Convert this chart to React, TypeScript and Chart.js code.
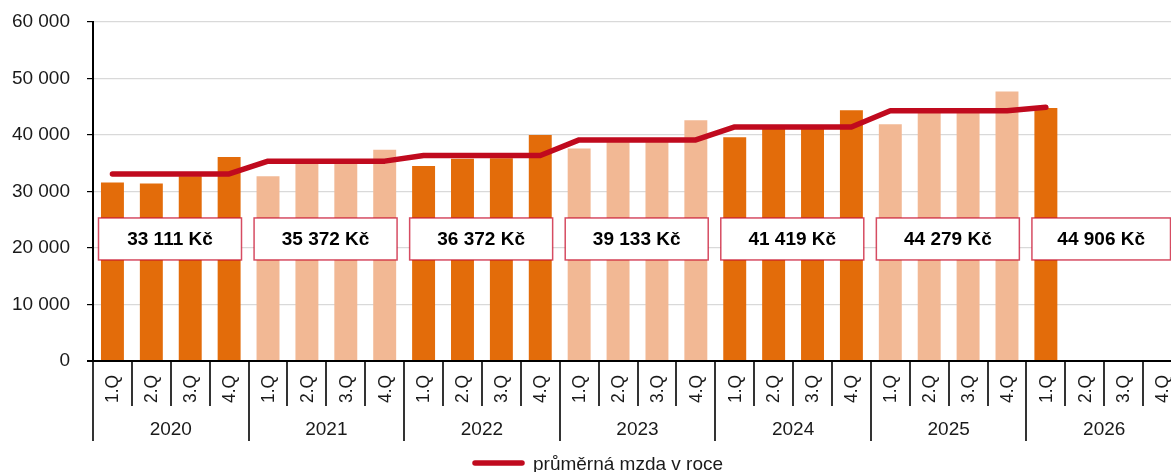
import React, { useEffect, useRef } from 'react';
import { Chart, registerables } from 'chart.js';

Chart.register(...registerables);

// ---- data ----
const years = ['2020', '2021', '2022', '2023', '2024', '2025', '2026'];
const quarters = ['1.Q', '2.Q', '3.Q', '4.Q'];
const quarterlyWage: (number | null)[] = [
  31600, 31400, 32700, 36100,
  32700, 35200, 35200, 37400,
  34500, 35800, 35900, 40000,
  37600, 38900, 38900, 42600,
  39600, 41300, 41300, 44400,
  41900, 44100, 44100, 47700,
  44800, null, null, null,
];
const annualAverage = [33111, 35372, 36372, 39133, 41419, 44279, 44906];
const annualLabels = ['33 111 Kč', '35 372 Kč', '36 372 Kč', '39 133 Kč', '41 419 Kč', '44 279 Kč', '44 906 Kč'];
const legendLabel = 'průměrná mzda v roce';
const yMin = 0;
const yMax = 60000;
const yStep = 10000;

// ---- styles ----
const DARK = '#E36C0A';
const LIGHT = '#F2B894';
const RED = '#C00A1E';
const BOX_BORDER = 'rgba(200,16,46,0.75)';
const FONT = '"Liberation Sans", Arial, sans-serif';
const TEXT = '#1a1a1a';
const AXIS_BOTTOM = 361;
const LABEL_CENTER_VALUE = 21600;

const fmt = (v: number) => String(v).replace(/\B(?=(\d{3})+(?!\d))/g, ' ');

const categoryLabels = years.flatMap((y) => quarters.map((q) => `${q} ${y}`));
const barColors = years.flatMap((_, yi) => quarters.map(() => (yi % 2 === 0 ? DARK : LIGHT)));
const lineData = years.flatMap((_, yi) =>
  quarters.map((_, qi) => (yi < years.length - 1 ? annualAverage[yi] : qi === 0 ? annualAverage[yi] : null))
);

const overlayPlugin = {
  id: 'overlay',
  afterDatasetsDraw(chart: any) {
    const { ctx, chartArea, scales } = chart;
    const yScale = scales.y;
    const catW = (chartArea.right - chartArea.left) / categoryLabels.length;
    const cy = yScale.getPixelForValue(LABEL_CENTER_VALUE);
    ctx.save();
    years.forEach((_, yi) => {
      const left = chartArea.left + yi * 4 * catW + 5.5;
      let w = 143;
      const maxRight = 1170.5;
      if (left + w > maxRight) w = maxRight - left;
      const top = cy - 21;
      const h = 42;
      ctx.fillStyle = '#ffffff';
      ctx.fillRect(left, top, w, h);
      ctx.strokeStyle = BOX_BORDER;
      ctx.lineWidth = 1.5;
      ctx.strokeRect(left, top, w, h);
      ctx.fillStyle = '#000';
      ctx.font = `bold 19px ${FONT}`;
      ctx.textAlign = 'center';
      ctx.textBaseline = 'middle';
      ctx.fillText(annualLabels[yi], left + w / 2, cy + 1);
    });
    ctx.restore();
  },
  afterDraw(chart: any) {
    const { ctx, chartArea } = chart;
    const catW = (chartArea.right - chartArea.left) / categoryLabels.length;
    ctx.save();
    // x axis line
    ctx.strokeStyle = '#000';
    ctx.lineWidth = 2;
    ctx.beginPath();
    ctx.moveTo(chartArea.left - 6, AXIS_BOTTOM);
    ctx.lineTo(chart.width, AXIS_BOTTOM);
    ctx.stroke();
    // separators
    ctx.lineWidth = 1.6;
    for (let i = 0; i <= categoryLabels.length; i++) {
      const x = Math.round(chartArea.left + i * catW);
      ctx.beginPath();
      ctx.moveTo(x, AXIS_BOTTOM);
      ctx.lineTo(x, i % 4 === 0 ? 441 : 406);
      ctx.stroke();
    }
    // quarter labels
    ctx.fillStyle = TEXT;
    ctx.font = `17.5px ${FONT}`;
    ctx.textAlign = 'center';
    ctx.textBaseline = 'middle';
    categoryLabels.forEach((_, i) => {
      const x = chartArea.left + (i + 0.5) * catW;
      ctx.save();
      ctx.translate(x + 1, 389);
      ctx.rotate(-Math.PI / 2);
      ctx.fillText(quarters[i % 4], 0, 0);
      ctx.restore();
    });
    // year labels
    ctx.font = `19px ${FONT}`;
    years.forEach((y, yi) => {
      const x = chartArea.left + (yi * 4 + 2) * catW;
      ctx.fillText(y, x, 430);
    });
    // legend
    ctx.strokeStyle = RED;
    ctx.lineWidth = 5.5;
    ctx.lineCap = 'round';
    ctx.beginPath();
    ctx.moveTo(475, 463);
    ctx.lineTo(522, 463);
    ctx.stroke();
    ctx.fillStyle = TEXT;
    ctx.textAlign = 'left';
    ctx.textBaseline = 'middle';
    ctx.font = `19px ${FONT}`;
    ctx.fillText(legendLabel, 533, 465);
    ctx.restore();
  },
};

export default function App() {
  const canvasRef = useRef<HTMLCanvasElement | null>(null);

  useEffect(() => {
    if (!canvasRef.current) return;
    const chart = new Chart(canvasRef.current, {
      type: 'bar',
      data: {
        labels: categoryLabels,
        datasets: [
          {
            type: 'line',
            label: legendLabel,
            data: lineData,
            borderColor: RED,
            backgroundColor: RED,
            borderWidth: 5.5,
            pointRadius: 0,
            pointHoverRadius: 0,
            tension: 0,
            borderCapStyle: 'round',
            borderJoinStyle: 'round',
            spanGaps: false,
            order: 0,
          } as any,
          {
            type: 'bar',
            label: 'mzda',
            data: quarterlyWage,
            backgroundColor: barColors,
            borderWidth: 0,
            barPercentage: 0.59,
            categoryPercentage: 1,
            order: 1,
          } as any,
        ],
      },
      options: {
        responsive: false,
        devicePixelRatio: 1,
        animation: false,
        layout: { padding: { top: 22, right: 0, bottom: 0, left: 0 } },
        plugins: {
          legend: { display: false },
          tooltip: { enabled: false },
        },
        scales: {
          x: {
            type: 'category',
            offset: true,
            ticks: { display: false },
            grid: { display: false },
            border: { display: false },
            afterFit(scale: any) {
              scale.height = 472 - AXIS_BOTTOM;
              scale.paddingLeft = 0;
              scale.paddingRight = 0;
            },
          },
          y: {
            min: yMin,
            max: yMax,
            ticks: {
              stepSize: yStep,
              padding: 17,
              color: TEXT,
              font: { family: FONT, size: 19 },
              callback: (v: any) => fmt(Number(v)),
            },
            grid: {
              color: '#d9d9d9',
              lineWidth: 1.2,
              tickColor: '#000',
              tickLength: 6,
            },
            border: { color: '#000', width: 2 },
            afterFit(scale: any) {
              scale.width = 93;
              scale.paddingTop = 0;
              scale.paddingBottom = 0;
            },
          },
        },
      },
      plugins: [overlayPlugin],
    });
    return () => chart.destroy();
  }, []);

  return (
    <div
      style={{
        position: 'fixed',
        left: 0,
        top: 0,
        width: 1171,
        height: 472,
        overflow: 'hidden',
        background: '#fff',
      }}
    >
      <canvas ref={canvasRef} width={1182} height={472} style={{ display: 'block' }} />
    </div>
  );
}
